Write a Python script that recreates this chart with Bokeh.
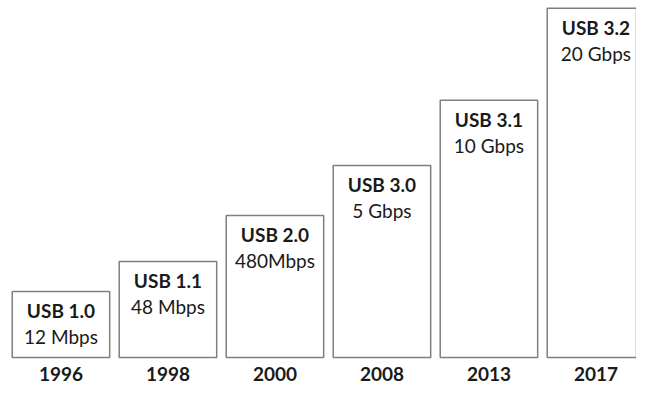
from bokeh.plotting import figure
from bokeh.models import Range1d, ColumnDataSource
from bokeh.core.properties import value
from bokeh.embed import file_html
from bokeh.resources import INLINE

versions = ["USB 1.0", "USB 1.1", "USB 2.0", "USB 3.0", "USB 3.1", "USB 3.2"]
speeds = ["12 Mbps", "48 Mbps", "480Mbps", "5 Gbps", "10 Gbps", "20 Gbps"]
years = ["1996", "1998", "2000", "2008", "2013", "2017"]
heights = [69, 100, 148, 200, 268, 364]

idx = list(range(len(years)))
src = ColumnDataSource(dict(x=idx, top=heights, version=versions, speed=speeds,
                            year=years, base=[0] * len(years)))

p = figure(width=636, height=384, output_backend="svg", toolbar_location=None,
           x_range=Range1d(-0.565, 5.379), y_range=Range1d(-28, 372), min_border=0)
p.axis.visible = False
p.grid.visible = False
p.outline_line_color = None
p.background_fill_color = "white"
p.border_fill_color = "white"

p.vbar(x="x", top="top", bottom=0, width=0.911, source=src,
       fill_color="white", line_color="#7f7f7f", line_width=1.5)

common = dict(text_align="center", text_baseline="middle", text_font=value("Lato"),
              text_font_size="19px", text_color="#1a1a1a", source=src)
p.text(x="x", y="top", text="version", y_offset=19, text_font_style="bold", **common)
p.text(x="x", y="top", text="speed", y_offset=45, **common)
p.text(x="x", y="base", text="year", y_offset=16, text_font_style="bold", **common)

open("out.html", "w").write(file_html(p, INLINE))
